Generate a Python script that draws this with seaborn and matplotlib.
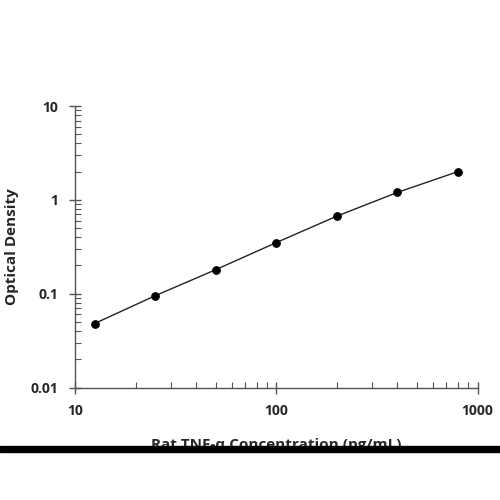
import matplotlib
matplotlib.use("Agg")
import matplotlib.pyplot as plt
import seaborn as sns
import numpy as np
from matplotlib.ticker import LogLocator, NullFormatter
from matplotlib.patches import Rectangle

conc = [12.5, 25, 50, 100, 200, 400, 800]
od = [0.048, 0.095, 0.18, 0.35, 0.67, 1.2, 2.0]
xticks = [10, 100, 1000]
xtick_labels = ["10", "100", "1000"]
yticks = [0.01, 0.1, 1, 10]
ytick_labels = ["0.01", "0.1", "1", "10"]

sns.set_style("white")
plt.rcParams['font.family'] = ['Open Sans', 'DejaVu Sans']
fig = plt.figure(figsize=(5, 5), dpi=100)
ax = fig.add_axes([0.150, 0.225, 0.805, 0.563])
sns.lineplot(x=conc, y=od, ax=ax, color="#222222", linewidth=1, marker="o",
             markersize=5.5, markerfacecolor="black", markeredgecolor="black")
ax.set_xscale("log"); ax.set_yscale("log")
ax.set_xlim(10, 1000); ax.set_ylim(0.01, 10)
ax.set_xticks(xticks); ax.set_xticklabels(xtick_labels)
ax.set_yticks(yticks); ax.set_yticklabels(ytick_labels)
ax.xaxis.set_minor_locator(LogLocator(base=10, subs=np.arange(2, 10)))
ax.yaxis.set_minor_locator(LogLocator(base=10, subs=np.arange(2, 10)))
ax.xaxis.set_minor_formatter(NullFormatter()); ax.yaxis.set_minor_formatter(NullFormatter())
ax.tick_params(which="major", direction="inout", length=8, width=1, color="#555555",
               labelsize=10, pad=8, bottom=True, left=True)
ax.tick_params(which="minor", direction="in", length=4, width=0.8, color="#555555",
               bottom=True, left=True)
for lab in ax.get_xticklabels() + ax.get_yticklabels():
    lab.set_fontweight("bold")
for s in ["top", "right"]:
    ax.spines[s].set_visible(False)
for s in ["left", "bottom"]:
    ax.spines[s].set_color("#555555"); ax.spines[s].set_linewidth(1)
ax.set_xlabel("Rat TNF-α Concentration (pg/mL)", fontsize=11, fontweight="bold", labelpad=14)
ax.set_ylabel("Optical Density", fontsize=11, fontweight="bold", labelpad=8)
fig.add_artist(Rectangle((0, 0.097), 1, 0.011, transform=fig.transFigure,
                         color="black", zorder=10))
fig.savefig("out.png", dpi=100)
